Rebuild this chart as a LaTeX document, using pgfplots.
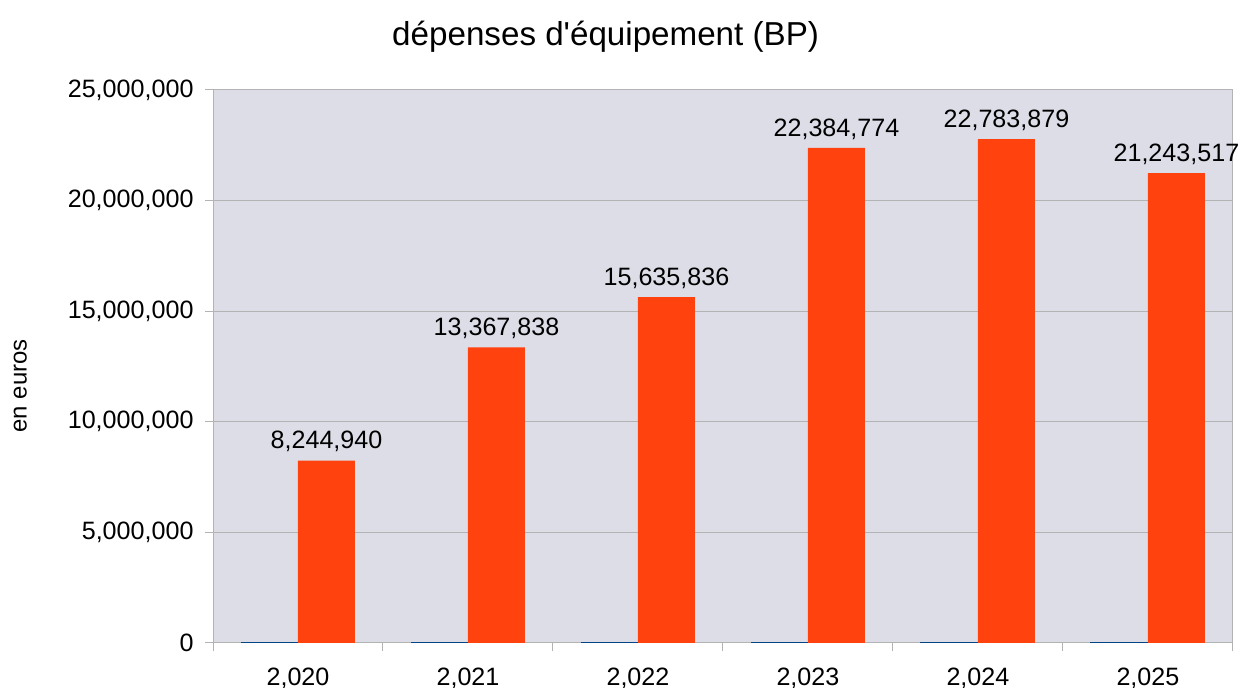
\documentclass[border=0pt]{standalone}
\usepackage{pgfplots}
\pgfplotsset{compat=1.18}
\usepackage{fontspec}
\setmainfont{Liberation Sans}[Ligatures=TeXOff]
\definecolor{lobar}{HTML}{FF420E}
\definecolor{loblue}{HTML}{004586}
\definecolor{wall}{HTML}{DDDDE8}
\definecolor{gridc}{HTML}{B3B3B3}
\pgfplotstableread{
x y lab
2020 8244940 8,244,940
2021 13367838 13,367,838
2022 15635836 15,635,836
2023 22384774 22,384,774
2024 22783879 22,783,879
2025 21243517 21,243,517
}\depenses
\pgfplotstableread{
x y
2020 2020
2021 2021
2022 2022
2023 2023
2024 2024
2025 2025
}\annees
\begin{document}
\begin{tikzpicture}[x=1bp,y=1bp]
\path[use as bounding box] (0,0) rectangle (1244,688);
\begin{axis}[
 at={(213bp,45bp)}, anchor=south west,
 scale only axis, width=1020bp, height=553bp,
 xmin=2019.5, xmax=2025.5, ymin=0, ymax=25000000,
 axis background/.style={fill=wall},
 axis line style={gridc, line width=1bp},
 scaled y ticks=false,
 ytick={0,5000000,10000000,15000000,20000000,25000000},
 yticklabels={0,{5,000,000},{10,000,000},{15,000,000},{20,000,000},{25,000,000}},
 ymajorgrids, grid style={gridc, line width=1bp},
 xtick={2019.5,2020.5,2021.5,2022.5,2023.5,2024.5,2025.5},
 xticklabels={},
 extra x ticks={2020,2021,2022,2023,2024,2025},
 extra x tick labels={{2,020},{2,021},{2,022},{2,023},{2,024},{2,025}},
 extra x tick style={major tick length=0pt, grid=none},
 tick align=outside, major tick length=8bp,
 tick style={gridc, line width=1bp},
 xtick pos=bottom, ytick pos=left,
 ticklabel style={font=\fontsize{25.2}{25.2}\selectfont, black},
 yticklabel style={xshift=-8bp},
 xticklabel style={yshift=-21bp},
 title={dépenses d'équipement (BP)},
 title style={at={(axis description cs:0.385,1.086)}, anchor=center, font=\fontsize{33.3}{33.3}\selectfont},
 ylabel={en euros},
 ylabel style={at={(axis description cs:-0.189,0.465)}, anchor=center, font=\fontsize{24}{24}\selectfont},
 clip=false,
]
\addplot[ybar, bar width=0.335, bar shift=-0.1675, fill=loblue, draw=loblue, line width=1bp] table[x=x,y=y]{\annees};
\addplot[ybar, bar width=0.335, bar shift=0.1675, fill=lobar, draw=none,
  nodes near coords, point meta=explicit symbolic,
  every node near coord/.append style={font=\fontsize{25.2}{25.2}\selectfont, black, xshift=28.5bp, yshift=5bp}]
  table[x=x,y=y,meta=lab]{\depenses};
\end{axis}
\end{tikzpicture}
\end{document}
